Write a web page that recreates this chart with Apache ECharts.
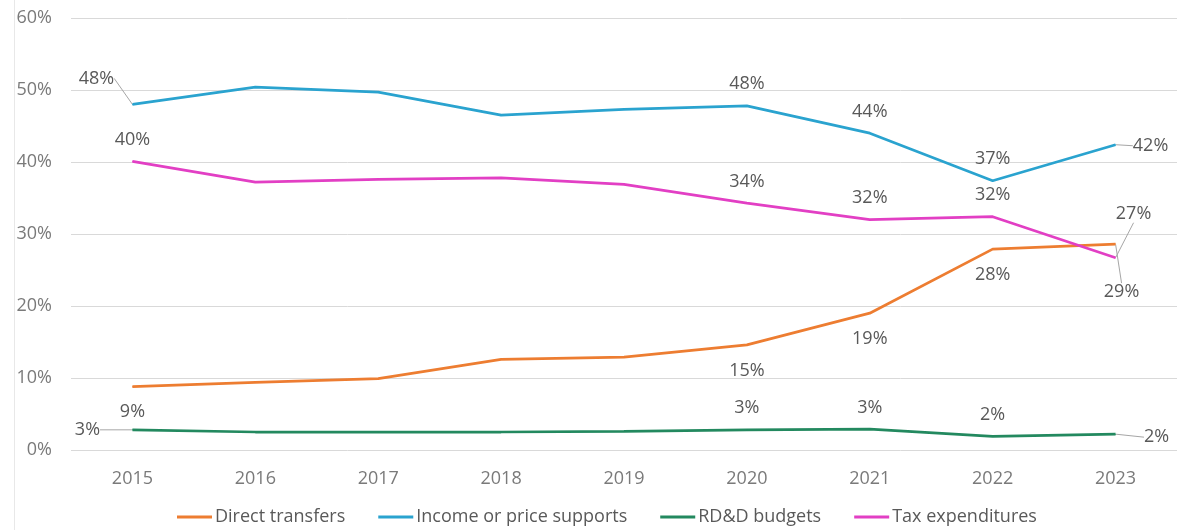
<!DOCTYPE html>
<html>
<head>
<meta charset="utf-8">
<script src="https://cdn.jsdelivr.net/npm/echarts@6/dist/echarts.min.js"></script>
<style>
  html, body { margin: 0; padding: 0; background: #ffffff; }
  #chart { width: 1177px; height: 530px; }
</style>
</head>
<body>
<div id="chart"></div>
<script>
// Share of support by instrument, 2015-2023 (%)
const years = ['2015', '2016', '2017', '2018', '2019', '2020', '2021', '2022', '2023'];
const directTransfers = [8.8, 9.4, 9.9, 12.6, 12.9, 14.6, 19.0, 27.9, 28.6];
const incomeSupports = [48.0, 50.4, 49.7, 46.5, 47.3, 47.8, 44.0, 37.4, 42.4];
const rddBudgets = [2.8, 2.5, 2.5, 2.5, 2.6, 2.8, 2.9, 1.9, 2.2];
const taxExpenditures = [40.1, 37.2, 37.6, 37.8, 36.9, 34.3, 32.0, 32.4, 26.7];
const yTicks = [0, 10, 20, 30, 40, 50, 60];

const seriesDefs = [
  { name: 'Direct transfers', values: directTransfers, color: '#ED7D31' },
  { name: 'Income or price supports', values: incomeSupports, color: '#2AA3CF' },
  { name: 'RD&D budgets', values: rddBudgets, color: '#23895F' },
  { name: 'Tax expenditures', values: taxExpenditures, color: '#E23FC4' }
];

// Which points carry a value label and where it sits.
// 'top' / 'bottom' sit next to the point; 'lead' is offset with a guide line.
const labelPlacement = {
  'Direct transfers':         { 0: ['bottom'], 5: ['bottom'], 6: ['bottom'], 7: ['bottom'], 8: ['lead', 6, 48] },
  'Income or price supports': { 0: ['lead', -36, -26], 5: ['top'], 6: ['top'], 7: ['top'], 8: ['lead', 35, 1] },
  'RD&D budgets':             { 0: ['lead', -45, 0], 5: ['top'], 6: ['top'], 7: ['top'], 8: ['lead', 41, 3] },
  'Tax expenditures':         { 0: ['top'], 5: ['top'], 6: ['top'], 7: ['top'], 8: ['lead', 18, -44] }
};

const TEXT = '#595959';
const FONT = '"Open Sans", "Noto Sans", sans-serif';
const FS = 18;

function buildData(def) {
  const spec = labelPlacement[def.name] || {};
  return def.values.map((v, i) => {
    const s = spec[i];
    if (!s) return { value: v, label: { show: false } };
    if (s[0] === 'lead') {
      return {
        value: v,
        label: { show: true, position: 'inside' },
        labelLine: { show: true, lineStyle: { color: '#a6a6a6', width: 1 } }
      };
    }
    return {
      value: v,
      label: { show: true, position: s[0], distance: s[0] === 'top' ? 12 : 16 }
    };
  });
}

const series = seriesDefs.map((def, si) => ({
  name: def.name,
  type: 'line',
  data: buildData(def),
  symbol: 'circle',
  symbolSize: 1,
  showSymbol: true,
  lineStyle: { color: def.color, width: 2.75 },
  itemStyle: { color: def.color },
  label: {
    color: TEXT,
    fontFamily: FONT,
    fontSize: FS,
    formatter: p => Math.round(p.value) + '%'
  },
  labelLine: { show: false },
  labelLayout: function (params) {
    const s = (labelPlacement[def.name] || {})[params.dataIndex];
    if (s && s[0] === 'lead') return { dx: s[1], dy: s[2] };
    return {};
  },
  emphasis: { disabled: true },
  animation: false,
  z: 2 + si
}));

const chart = echarts.init(document.getElementById('chart'), null, { renderer: 'canvas' });
chart.setOption({
  backgroundColor: '#ffffff',
  animation: false,
  textStyle: { fontFamily: FONT },
  grid: { left: 71, right: -9, top: 18, bottom: 80 },
  xAxis: {
    type: 'category',
    data: years,
    boundaryGap: true,
    axisLine: { show: false },
    axisTick: { show: false },
    axisLabel: { color: '#7a7a7a', fontSize: FS, fontFamily: FONT, margin: 20 }
  },
  yAxis: {
    type: 'value',
    min: yTicks[0],
    max: yTicks[yTicks.length - 1],
    interval: yTicks[1] - yTicks[0],
    axisLine: { show: false },
    axisTick: { show: false },
    axisLabel: { color: '#7a7a7a', fontSize: FS, fontFamily: FONT, margin: 19, formatter: '{value}%' },
    splitLine: { lineStyle: { color: '#d9d9d9', width: 1 } }
  },
  legend: {
    bottom: -1,
    left: 172,
    icon: 'rect',
    itemWidth: 35,
    itemHeight: 3,
    itemGap: 33,
    textStyle: { color: TEXT, fontSize: FS, fontFamily: FONT, padding: [0, 0, 0, -2] },
    data: seriesDefs.map(d => d.name)
  },
  graphic: [{
    type: 'line',
    shape: { x1: 14.5, y1: 0, x2: 14.5, y2: 530 },
    style: { stroke: '#e8e8e8', lineWidth: 1 },
    silent: true
  }],
  series: series
});
</script>
</body>
</html>
